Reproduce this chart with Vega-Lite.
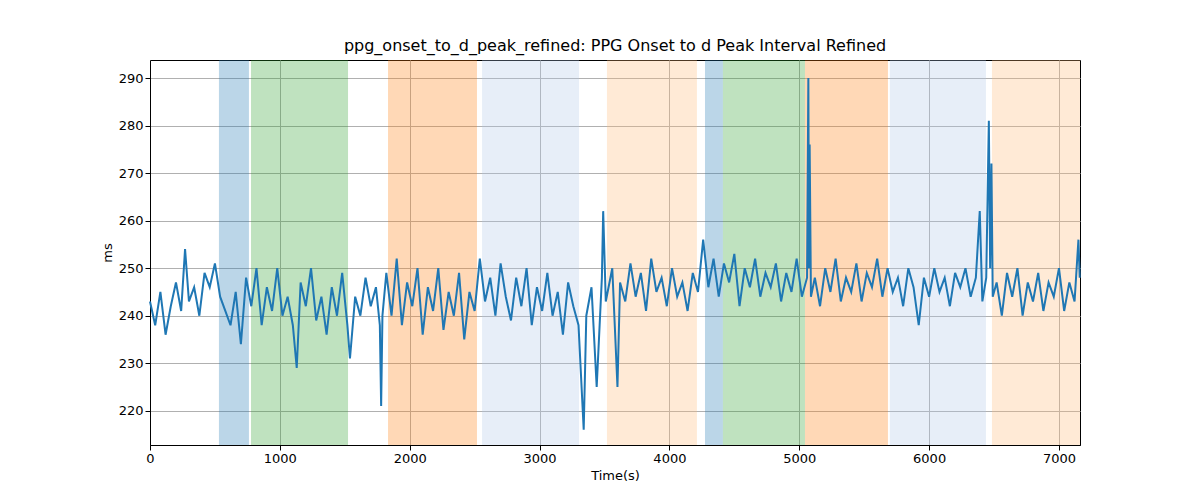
{
  "$schema": "https://vega.github.io/schema/vega-lite/v6.json",
  "width": 930,
  "height": 385,
  "autosize": {"type": "none"},
  "padding": {"left": 150, "top": 60, "right": 120, "bottom": 55},
  "config": {
    "font": "DejaVu Sans",
    "view": {"stroke": "black"},
    "axis": {"gridColor": "#b0b0b0", "gridOpacity": 1, "labelFontSize": 13, "titleFontSize": 13, "titleFontWeight": "normal", "labelColor": "black", "titleColor": "black", "domainColor": "black", "tickColor": "black", "labelFlush": false}
  },
  "title": {"text": "ppg_onset_to_d_peak_refined: PPG Onset to d Peak Interval Refined", "fontSize": 16, "fontWeight": "normal", "offset": 6},
  "layer": [
    {
      "data": {"values": [
        {"s": 531, "e": 762, "c": "a"},
        {"s": 778, "e": 1525, "c": "b"},
        {"s": 1833, "e": 2518, "c": "c"},
        {"s": 2557, "e": 3304, "c": "d"},
        {"s": 3519, "e": 4212, "c": "e"},
        {"s": 4274, "e": 4412, "c": "a"},
        {"s": 4412, "e": 5044, "c": "b"},
        {"s": 5044, "e": 5683, "c": "c"},
        {"s": 5698, "e": 6438, "c": "d"},
        {"s": 6484, "e": 7162, "c": "e"}
      ]},
      "mark": {"type": "rect", "opacity": 0.3},
      "encoding": {
        "x": {"field": "s", "type": "quantitative", "scale": {"domain": [0, 7162], "nice": false, "zero": false}},
        "x2": {"field": "e"},
        "color": {"field": "c", "type": "nominal", "legend": null, "scale": {"domain": ["a","b","c","d","e"], "range": ["#1f77b4","#2ca02c","#ff7f0e","#aec7e8","#ffbb78"]}}
      }
    },
    {
      "data": {"values": [
        {"t":0,"v":243},{"t":40,"v":238},{"t":80,"v":245},{"t":120,"v":236},{"t":160,"v":242},{"t":200,"v":247},{"t":240,"v":241},{"t":270,"v":254},{"t":300,"v":243},{"t":340,"v":246},{"t":380,"v":240},{"t":420,"v":249},{"t":460,"v":246},{"t":500,"v":251},{"t":540,"v":244},{"t":580,"v":241},{"t":620,"v":238},{"t":660,"v":245},{"t":700,"v":234},{"t":740,"v":248},{"t":780,"v":242},{"t":820,"v":250},{"t":860,"v":238},{"t":900,"v":246},{"t":940,"v":241},{"t":980,"v":250},{"t":1020,"v":240},{"t":1060,"v":244},{"t":1100,"v":238},{"t":1130,"v":229},{"t":1160,"v":247},{"t":1200,"v":242},{"t":1240,"v":250},{"t":1280,"v":239},{"t":1320,"v":244},{"t":1360,"v":236},{"t":1400,"v":246},{"t":1440,"v":240},{"t":1480,"v":249},{"t":1520,"v":238},{"t":1540,"v":231},{"t":1580,"v":244},{"t":1620,"v":240},{"t":1660,"v":248},{"t":1700,"v":242},{"t":1740,"v":246},{"t":1770,"v":238},{"t":1780,"v":221},{"t":1790,"v":240},{"t":1820,"v":249},{"t":1860,"v":240},{"t":1900,"v":252},{"t":1940,"v":238},{"t":1980,"v":247},{"t":2020,"v":242},{"t":2060,"v":250},{"t":2100,"v":236},{"t":2140,"v":246},{"t":2180,"v":241},{"t":2220,"v":250},{"t":2260,"v":237},{"t":2300,"v":245},{"t":2340,"v":240},{"t":2380,"v":249},{"t":2420,"v":235},{"t":2460,"v":245},{"t":2500,"v":241},{"t":2540,"v":252},{"t":2580,"v":243},{"t":2620,"v":248},{"t":2660,"v":240},{"t":2700,"v":251},{"t":2740,"v":244},{"t":2780,"v":239},{"t":2820,"v":248},{"t":2860,"v":242},{"t":2900,"v":250},{"t":2940,"v":238},{"t":2980,"v":246},{"t":3020,"v":241},{"t":3060,"v":249},{"t":3100,"v":240},{"t":3140,"v":245},{"t":3180,"v":236},{"t":3220,"v":247},{"t":3260,"v":242},{"t":3300,"v":238},{"t":3340,"v":216},{"t":3360,"v":240},{"t":3400,"v":246},{"t":3440,"v":225},{"t":3480,"v":248},{"t":3490,"v":262},{"t":3510,"v":243},{"t":3560,"v":250},{"t":3600,"v":225},{"t":3620,"v":247},{"t":3660,"v":243},{"t":3700,"v":251},{"t":3740,"v":244},{"t":3780,"v":249},{"t":3820,"v":241},{"t":3860,"v":252},{"t":3900,"v":245},{"t":3940,"v":248},{"t":3980,"v":242},{"t":4020,"v":250},{"t":4060,"v":244},{"t":4100,"v":247},{"t":4140,"v":241},{"t":4180,"v":249},{"t":4220,"v":245},{"t":4260,"v":256},{"t":4300,"v":246},{"t":4340,"v":252},{"t":4380,"v":244},{"t":4420,"v":251},{"t":4460,"v":247},{"t":4500,"v":253},{"t":4540,"v":242},{"t":4580,"v":250},{"t":4620,"v":246},{"t":4660,"v":252},{"t":4700,"v":244},{"t":4740,"v":249},{"t":4780,"v":246},{"t":4820,"v":251},{"t":4860,"v":243},{"t":4900,"v":249},{"t":4940,"v":245},{"t":4980,"v":252},{"t":5020,"v":244},{"t":5060,"v":248},{"t":5070,"v":290},{"t":5075,"v":250},{"t":5080,"v":276},{"t":5090,"v":244},{"t":5120,"v":248},{"t":5160,"v":242},{"t":5200,"v":250},{"t":5240,"v":245},{"t":5280,"v":252},{"t":5320,"v":243},{"t":5360,"v":248},{"t":5400,"v":245},{"t":5440,"v":251},{"t":5480,"v":243},{"t":5520,"v":249},{"t":5560,"v":246},{"t":5600,"v":252},{"t":5640,"v":244},{"t":5680,"v":250},{"t":5720,"v":245},{"t":5760,"v":248},{"t":5800,"v":242},{"t":5840,"v":250},{"t":5880,"v":246},{"t":5920,"v":238},{"t":5960,"v":248},{"t":6000,"v":244},{"t":6040,"v":250},{"t":6080,"v":245},{"t":6120,"v":248},{"t":6160,"v":242},{"t":6200,"v":249},{"t":6240,"v":246},{"t":6280,"v":250},{"t":6320,"v":244},{"t":6360,"v":248},{"t":6390,"v":262},{"t":6410,"v":243},{"t":6440,"v":248},{"t":6460,"v":281},{"t":6470,"v":250},{"t":6480,"v":272},{"t":6490,"v":244},{"t":6520,"v":247},{"t":6560,"v":240},{"t":6600,"v":249},{"t":6640,"v":244},{"t":6680,"v":250},{"t":6720,"v":240},{"t":6760,"v":247},{"t":6800,"v":243},{"t":6840,"v":249},{"t":6880,"v":241},{"t":6920,"v":247},{"t":6960,"v":244},{"t":7000,"v":250},{"t":7040,"v":241},{"t":7080,"v":247},{"t":7120,"v":243},{"t":7150,"v":256},{"t":7160,"v":248}
      ]},
      "mark": {"type": "line", "color": "#1f77b4", "strokeWidth": 2},
      "encoding": {
        "x": {"field": "t", "type": "quantitative", "title": "Time(s)", "axis": {"values": [0,1000,2000,3000,4000,5000,6000,7000], "format": "d"}},
        "y": {"field": "v", "type": "quantitative", "title": "ms", "scale": {"domain": [212.8, 293.8], "nice": false, "zero": false}, "axis": {"values": [220,230,240,250,260,270,280,290]}}
      }
    }
  ]
}
